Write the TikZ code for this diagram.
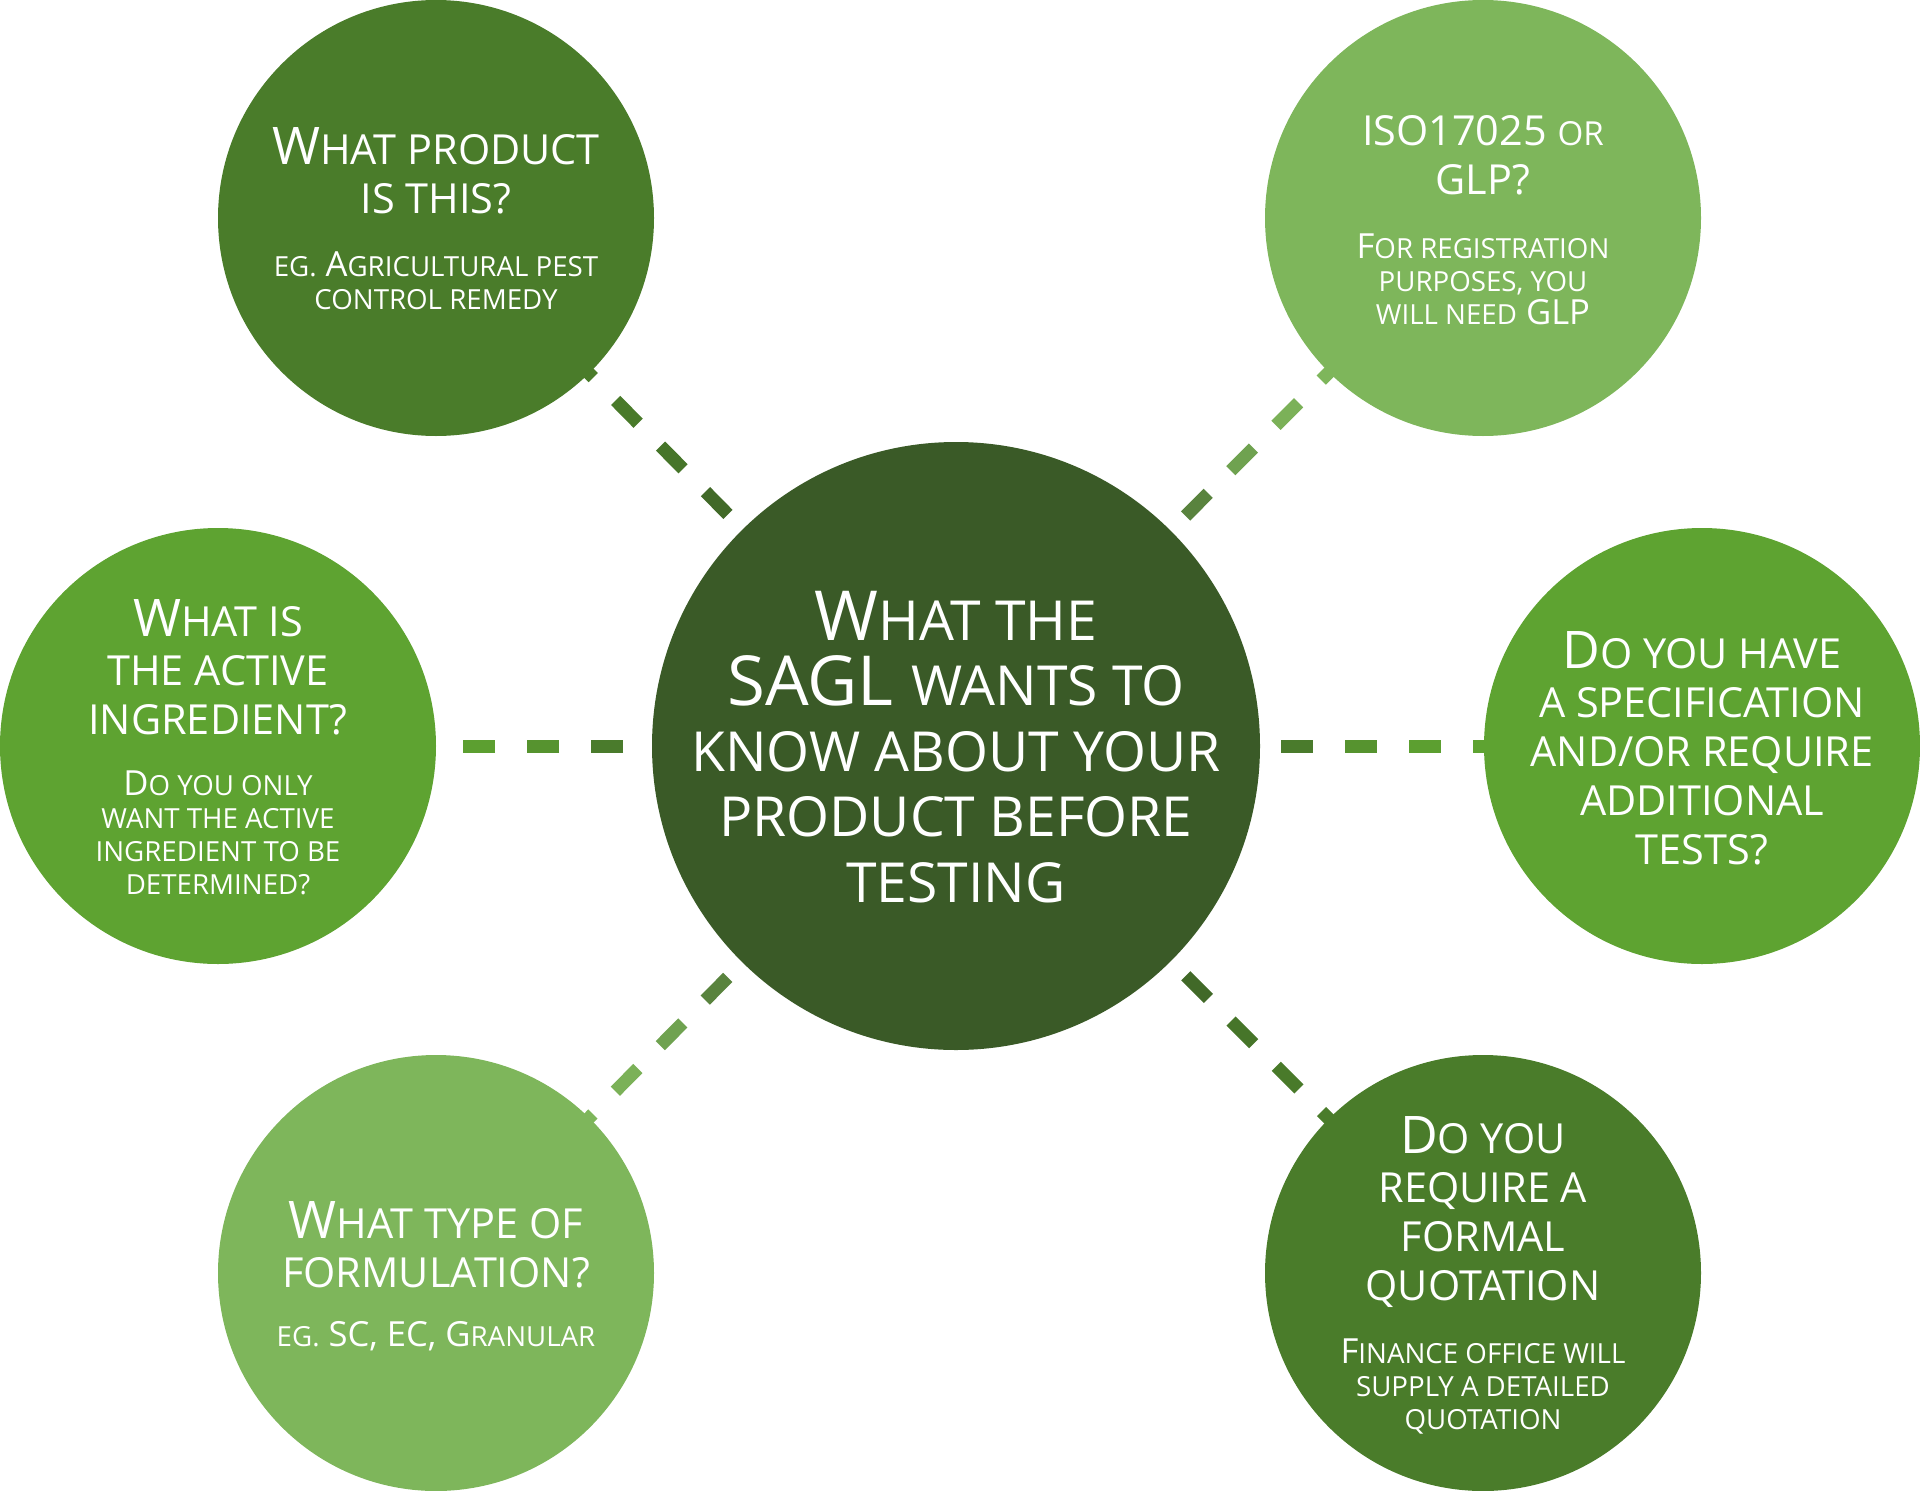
\documentclass[tikz,border=0pt]{standalone}
\usepackage{fontspec}
\setmainfont{Open Sans}
\newfontfamily\scfont[Scale=0.8]{Open Sans}
\newcommand\s[1]{{\scfont #1}}
\usetikzlibrary{calc}
\definecolor{cC}{HTML}{3A5A27}
\definecolor{cDark}{HTML}{4A7C2A}
\definecolor{cMid}{HTML}{5EA331}
\definecolor{cLight}{HTML}{7EB65B}
\tikzset{
  bub/.style={circle, draw=none, inner sep=0pt, minimum size=436pt},
  bigbub/.style={circle, draw=none, inner sep=0pt, minimum size=608pt},
  maintxt/.style={text=white, align=center, inner sep=0pt, font=\fontsize{51.8}{49}\selectfont},
  isotxt/.style={text=white, align=center, inner sep=0pt, font=\fontsize{41.4}{49}\selectfont},
  centtxt/.style={text=white, align=center, inner sep=0pt, font=\fontsize{69}{65.5}\selectfont},
  subtxt/.style={text=white, align=center, inner sep=0pt, font=\fontsize{34.6}{33}\selectfont},
  dashseg/.style={line width=13pt, line cap=butt}
}
\newcommand\connector[4]{% from, to, colour, offset
  \foreach \k/\p in {0/45,1/78,2/95,3/100}{
    \pgfmathsetmacro\da{#4+64*\k}
    \pgfmathsetmacro\db{#4+64*\k+32}
    \draw[dashseg, color=#3!\p!cC] ($(#1.center)!\da pt!(#2.center)$) -- ($(#1.center)!\db pt!(#2.center)$);
  }
}
\begin{document}
\begin{tikzpicture}[x=1pt, y=-1pt]
\useasboundingbox (0,0) rectangle (1920,1491);
% coordinates for centres
\coordinate (pC) at (956,746);
\coordinate (pTL) at (436,218);
\coordinate (pTR) at (1483,218);
\coordinate (pLM) at (218,746);
\coordinate (pRM) at (1702,746);
\coordinate (pBL) at (436,1273);
\coordinate (pBR) at (1483,1273);
% connectors (drawn beneath the circles)
\connector{pC}{pTL}{cDark}{325}
\connector{pC}{pTR}{cLight}{325}
\connector{pC}{pLM}{cMid}{333}
\connector{pC}{pRM}{cMid}{325}
\connector{pC}{pBL}{cLight}{325}
\connector{pC}{pBR}{cDark}{325}
% circles
\node[bigbub, fill=cC] (C) at (pC) {};
\node[bub, fill=cDark] (TL) at (pTL) {};
\node[bub, fill=cLight] (TR) at (pTR) {};
\node[bub, fill=cMid] (LM) at (pLM) {};
\node[bub, fill=cMid] (RM) at (pRM) {};
\node[bub, fill=cLight] (BL) at (pBL) {};
\node[bub, fill=cDark] (BR) at (pBR) {};
% texts
\node[centtxt] (Ct) at (956,747) {W\s{HAT THE}\\SAGL \s{WANTS TO}\\\s{KNOW ABOUT YOUR}\\\s{PRODUCT BEFORE}\\\s{TESTING}};
\node[maintxt] (TLt) at (436,171) {W\s{HAT PRODUCT}\\\s{IS THIS?}};
\node[subtxt] (TLs) at (436,281) {\s{EG.} A\s{GRICULTURAL PEST}\\\s{CONTROL REMEDY}};
\node[isotxt] (TRt) at (1483,155) {ISO17025 \s{OR}\\GLP?};
\node[subtxt] (TRs) at (1483,279) {F\s{OR REGISTRATION}\\\s{PURPOSES, YOU}\\\s{WILL NEED} GLP};
\node[maintxt] (LMt) at (218,667) {W\s{HAT IS}\\\s{THE ACTIVE}\\\s{INGREDIENT?}};
\node[subtxt] (LMs) at (218,833) {D\s{O YOU ONLY}\\\s{WANT THE ACTIVE}\\\s{INGREDIENT TO BE}\\\s{DETERMINED?}};
\node[maintxt] (RMt) at (1702,748) {D\s{O YOU HAVE}\\\s{A SPECIFICATION}\\\s{AND/OR REQUIRE}\\\s{ADDITIONAL}\\\s{TESTS?}};
\node[maintxt] (BLt) at (436,1245) {W\s{HAT TYPE OF}\\\s{FORMULATION?}};
\node[subtxt] (BLs) at (436,1336) {\s{EG.} SC, EC, G\s{RANULAR}};
\node[maintxt] (BRt) at (1483,1212) {D\s{O YOU}\\\s{REQUIRE A}\\\s{FORMAL}\\\s{QUOTATION}};
\node[subtxt] (BRs) at (1483,1386) {F\s{INANCE OFFICE WILL}\\\s{SUPPLY A DETAILED}\\\s{QUOTATION}};
\end{tikzpicture}
\end{document}
